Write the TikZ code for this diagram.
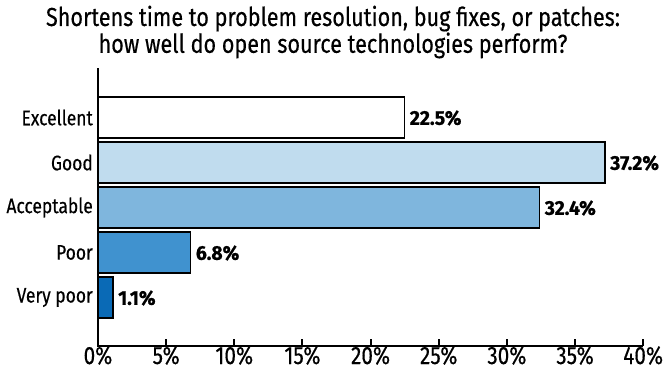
\documentclass[tikz,border=0pt]{standalone}
\usepackage{fontspec}
\setmainfont{Fira Sans}[FakeStretch=0.83, FakeBold=0.4]
\newfontfamily\valfont{Fira Sans}[FakeStretch=0.97, FakeBold=0.8]
\usetikzlibrary{positioning}
\definecolor{goodblue}{RGB}{192,220,238}
\definecolor{acceptblue}{RGB}{127,182,221}
\definecolor{poorblue}{RGB}{64,146,207}
\definecolor{verypoorblue}{RGB}{10,106,182}
\newcommand{\pctwidth}{13.63}

\begin{document}
\begin{tikzpicture}
    [
        x = 1pt, y = -1pt,
        bar/.style = {draw = black, line width = 1.6pt},
        axis/.style = {draw = black, line width = 2pt},
        catlabel/.style = {anchor = east, inner sep = 0pt, font = \fontsize{21}{23}\selectfont},
        vallabel/.style = {anchor = west, inner sep = 0pt, font = \valfont\fontsize{20}{22}\selectfont\bfseries},
        ticklabel/.style = {anchor = base, inner sep = 0pt, font = \fontsize{25}{27}\selectfont}
    ]
                \useasboundingbox (0,0) rectangle (666,370);

                % Draw the title:
                \node [align = center, font = \fontsize{26}{25}\selectfont] (title) at (333,32)
                    {Shortens time to problem resolution, bug fixes, or patches:\\how well do open source technologies perform?};

                % Draw the bars with their labels:
                \foreach \val/\lab/\col [count = \i] in {22.5/Excellent/white, 37.2/Good/goodblue, 32.4/Acceptable/acceptblue, 6.8/Poor/poorblue, 1.1/Very poor/verypoorblue}
                {
                    \pgfmathsetmacro{\ytop}{97 + 45*(\i-1)}
                    \pgfmathsetmacro{\xend}{98 + \val*\pctwidth}
                    \draw [bar, fill = \col] (98,\ytop) rectangle (\xend,\ytop+41);
                    \node [catlabel] (cat\i) at (93,\ytop+20.5) {\lab};
                    \node [vallabel] (val\i) at (\xend+5,\ytop+21) {\val\%};
                }

                % Draw the axes:
                \coordinate (axtop) at (98,68);
                \coordinate (origin) at (98,346);
                \coordinate (axend) at (643,346);
                \draw [axis] (axtop) -- (origin) -- (axend);
                \foreach \t in {0,5,...,40}
                {
                    \draw [axis] (98+\t*\pctwidth,346) -- ++(0,-7);
                    \node [ticklabel] (tick\t) at (98+\t*\pctwidth,364) {\t\%};
                }
            \end{tikzpicture}
\end{document}
